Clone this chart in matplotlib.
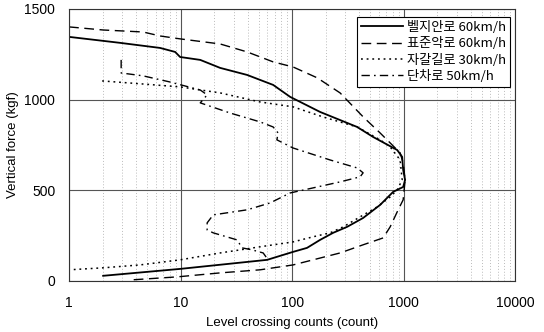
import matplotlib
matplotlib.use('Agg')
import matplotlib.pyplot as plt
from matplotlib.ticker import FixedLocator, NullFormatter, LogLocator

plt.rcParams['font.family'] = ['Liberation Sans', 'Noto Sans CJK KR', 'DejaVu Sans']

# 벨지안로 60km/h
belgian_n = [1, 2.87, 6.55, 8.93, 9.9, 15.0, 22.6, 39.5, 67.6, 96, 178, 383, 532, 875, 970, 990,
             1031, 990, 805, 615, 433, 311, 233, 178, 136, 102, 78, 59.7, 9.9, 2.02]
belgian_f = [1346, 1313, 1285, 1263, 1235, 1219, 1175, 1136, 1081, 1015, 932, 849, 794, 722, 684, 612,
             557, 518, 491, 419, 347, 298, 265, 226, 182, 160, 138, 116, 66, 28]

# 표준악로 60km/h
standard_n = [1, 2.02, 4.61, 6.55, 9.9, 22.6, 39.5, 67.6, 102, 168, 269, 433, 615, 757, 930, 990,
              1031, 990, 893, 757, 655, 433, 269, 154, 102, 51.6, 22.6, 9.3, 3.75]
standard_f = [1401, 1384, 1373, 1351, 1335, 1307, 1263, 1208, 1180, 1120, 1037, 905, 816, 761, 706, 651,
              557, 447, 392, 298, 237, 199, 154, 116, 88, 61, 44, 22, 6]

# 자갈길로 30km/h
gravel_n = [1.98, 4.61, 9.9, 22.6, 51.6, 102, 190, 383, 615, 757, 930, 970,
            875, 757, 578, 407, 287, 219, 154, 102, 51.6, 22.6, 9.9, 4.33, 2.02, 1]
gravel_f = [1103, 1086, 1070, 1037, 987, 960, 904, 849, 778, 739, 667, 557,
            502, 463, 408, 353, 298, 265, 243, 215, 188, 154, 116, 88, 72, 61]

# 단차로 50km/h
step_n = [2.93, 2.93, 4.61, 8.05, 15.0, 17.3, 15.0, 27.8, 51.6, 67.6, 74.9, 73, 102, 219, 383, 433,
          407, 269, 168, 96, 63.5, 39.5, 19.6, 17.3, 17.3, 19.6, 32.1, 35.6, 43.8, 55, 60.9]
step_f = [1219, 1147, 1131, 1097, 1053, 1026, 982, 926, 877, 849, 816, 778, 733, 667, 623, 596,
          574, 546, 518, 485, 430, 392, 364, 320, 281, 265, 226, 182, 171, 154, 116]

labels = ['벨지안로 60km/h', '표준악로 60km/h', '자갈길로 30km/h', '단차로 50km/h']
x_ticks = [1, 10, 100, 1000, 10000]
y_ticks = [0, 500, 1000, 1500]

fig = plt.figure(figsize=(5.44, 3.32), dpi=100)
ax = fig.add_axes([0.127, 0.154, 0.82, 0.819])

ax.plot(belgian_n, belgian_f, color='black', lw=1.3, ls='-', label=labels[0])
ax.plot(standard_n, standard_f, color='black', lw=1.0, ls=(0, (7, 4)), label=labels[1])
ax.plot(gravel_n, gravel_f, color='black', lw=1.1, ls=(0, (1.2, 2.5)), label=labels[2])
ax.plot(step_n, step_f, color='black', lw=1.0, ls=(0, (6, 3, 1.2, 3)), label=labels[3])

ax.set_xscale('log')
ax.set_xlim(1, 10000)
ax.set_ylim(0, 1500)
ax.xaxis.set_major_locator(FixedLocator(x_ticks))
ax.set_xticklabels([str(t) for t in x_ticks])
ax.xaxis.set_minor_locator(LogLocator(base=10, subs=range(2, 10)))
ax.xaxis.set_minor_formatter(NullFormatter())
ax.yaxis.set_major_locator(FixedLocator(y_ticks))

ax.grid(True, which='major', color='#555555', lw=0.8, ls='-')
ax.grid(True, which='minor', axis='x', color='#bbbbbb', lw=0.7, ls=(0, (1, 2)))
ax.set_axisbelow(True)

ax.tick_params(which='both', length=0, labelsize=10)
ax.tick_params(axis='x', pad=11)
ax.tick_params(axis='y', pad=10)
for s in ax.spines.values():
    s.set_color('#333333')
    s.set_linewidth(0.8)

ax.set_xlabel('Level crossing counts (count)', fontsize=9.5, labelpad=5)
ax.set_ylabel('Vertical force (kgf)', fontsize=9.5, labelpad=4)

leg = ax.legend(loc='upper right', bbox_to_anchor=(0.994, 0.98), frameon=True,
                fancybox=False, edgecolor='black', framealpha=1, handlelength=3.2,
                handletextpad=0.3, borderpad=0.3, labelspacing=0.25, borderaxespad=0.2,
                prop={'family': ['Noto Sans CJK KR', 'DejaVu Sans'], 'size': 9.5})
leg.get_frame().set_linewidth(0.8)

fig.savefig('out.png', dpi=100)
